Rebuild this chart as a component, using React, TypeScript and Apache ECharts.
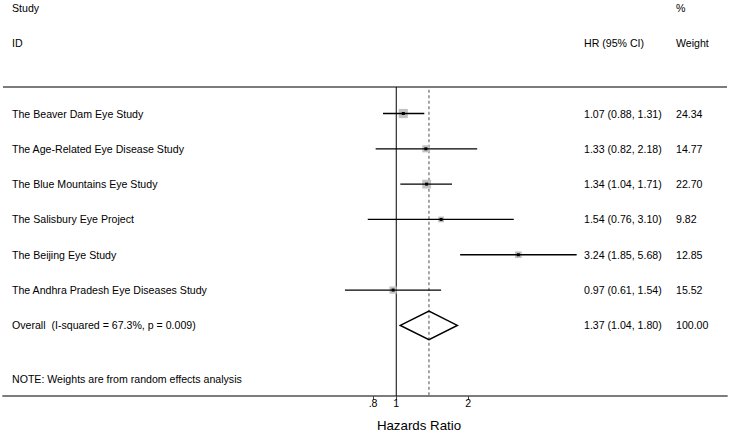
import React, { useEffect, useRef } from "react";
import * as echarts from "echarts";

// ---- data ----
const studies = [
  "The Beaver Dam Eye Study",
  "The Age-Related Eye Disease Study",
  "The Blue Mountains Eye Study",
  "The Salisbury Eye Project",
  "The Beijing Eye Study",
  "The Andhra Pradesh Eye Diseases Study",
];
const hrValues = [1.07, 1.33, 1.34, 1.54, 3.24, 0.97];
const ciLow = [0.88, 0.82, 1.04, 0.76, 1.85, 0.61];
const ciHigh = [1.31, 2.18, 1.71, 3.1, 5.68, 1.54];
const weights = [24.34, 14.77, 22.7, 9.82, 12.85, 15.52];

const overallLabel = "Overall  (I-squared = 67.3%, p = 0.009)";
const overallHR = 1.37;
const overallLow = 1.04;
const overallHigh = 1.8;
const overallWeight = 100.0;

const xTicks = [0.8, 1, 2];
const xTickLabels = [".8", "1", "2"];
const noteText = "NOTE: Weights are from random effects analysis";
const axisTitle = "Hazards Ratio";

// ---- styling ----
const FONT = '"Liberation Sans", Arial, sans-serif';
const FS = 10.6;
const TXT = "#000";
const COL_NAME_X = 12;
const COL_HR_X = 584;
const COL_W_X = 676;
const TOP_ROW = -0.75;
const AXIS_ROW = 8;
const X_MIN = 0.02267;
const X_MAX = 24.16;

const fmt = (v: number) => v.toFixed(2);

export default function App() {
  const ref = useRef<HTMLDivElement>(null);
  useEffect(() => {
    if (!ref.current) return;
    const chart = echarts.init(ref.current, undefined, { renderer: "svg" });

    const studyData = studies.map((_, i) => [hrValues[i], i, ciLow[i], ciHigh[i], weights[i]]);
    const overallRow = studies.length;

    const textEl = (x: number, y: number, text: string, align = "left", size = FS) => ({
      type: "text",
      x,
      y,
      style: { text, fill: TXT, fontSize: size, fontFamily: FONT, align, verticalAlign: "middle" },
    });

    const option: any = {
      animation: false,
      grid: { left: 3, right: 3, top: 0.5, bottom: 38 },
      xAxis: {
        type: "log",
        logBase: 10,
        min: X_MIN,
        max: X_MAX,
        position: "bottom",
        axisLine: { show: true, onZero: false, lineStyle: { color: "#7c7c7c", width: 1.8 } },
        axisTick: { show: true, customValues: xTicks, length: 4, lineStyle: { color: "#444", width: 1 } },
        axisLabel: {
          customValues: xTicks,
          margin: 1.5,
          fontSize: FS,
          fontFamily: FONT,
          color: TXT,
          formatter: (v: number) => {
            let best = 0;
            xTicks.forEach((t, k) => {
              if (Math.abs(t - v) < Math.abs(xTicks[best] - v)) best = k;
            });
            return xTickLabels[best];
          },
        },
        splitLine: { show: false },
        minorTick: { show: false },
      },
      yAxis: { type: "value", inverse: true, min: -3.2, max: 8, show: false },
      graphic: [
        textEl(COL_NAME_X, 8, "Study"),
        textEl(COL_W_X, 8, "%"),
        textEl(COL_NAME_X, 43, "ID"),
        textEl(COL_HR_X, 43, "HR (95% CI)"),
        textEl(COL_W_X, 43, "Weight"),
        textEl(COL_NAME_X, 379, noteText),
        textEl(419, 425, axisTitle, "center", 13.3),
      ],
      series: [
        {
          type: "custom",
          name: "frame",
          data: [[1, TOP_ROW]],
          renderItem: (params: any, api: any) => {
            const a = api.coord([X_MIN, TOP_ROW]);
            const b = api.coord([X_MAX, TOP_ROW]);
            return {
              type: "line",
              shape: { x1: a[0], y1: a[1], x2: b[0], y2: b[1] },
              style: { stroke: "#7c7c7c", lineWidth: 1.8 },
            };
          },
        },
        {
          type: "custom",
          name: "reference",
          data: [
            [1, TOP_ROW, AXIS_ROW, 0],
            [overallHR, TOP_ROW + 0.08, AXIS_ROW, 1],
          ],
          renderItem: (params: any, api: any) => {
            const t = api.coord([api.value(0), api.value(1)]);
            const b = api.coord([api.value(0), api.value(2)]);
            const dashed = api.value(3) === 1;
            return {
              type: "line",
              shape: { x1: t[0], y1: t[1], x2: b[0], y2: b[1] },
              style: dashed
                ? { stroke: "#777", lineWidth: 1.3, lineDash: [3, 2.5] }
                : { stroke: "#000", lineWidth: 1 },
            };
          },
        },
        {
          type: "custom",
          name: "studies",
          data: studyData,
          renderItem: (params: any, api: any) => {
            const idx = params.dataIndex;
            const h = api.value(0);
            const row = api.value(1);
            const c = api.coord([h, row]);
            const l = api.coord([api.value(2), row]);
            const r = api.coord([api.value(3), row]);
            const s = 1.85 * Math.sqrt(api.value(4));
            return {
              type: "group",
              children: [
                {
                  type: "rect",
                  shape: { x: c[0] - s / 2, y: c[1] - s / 2, width: s, height: s },
                  style: { fill: "#c2c2c2" },
                },
                {
                  type: "line",
                  shape: { x1: l[0], y1: l[1], x2: r[0], y2: r[1] },
                  style: { stroke: "#000", lineWidth: 1.3 },
                },
                {
                  type: "rect",
                  shape: { x: c[0] - 1.5, y: c[1] - 1.5, width: 3, height: 3 },
                  style: { fill: "#000" },
                },
                textEl(COL_NAME_X, c[1], studies[idx]),
                textEl(
                  COL_HR_X,
                  c[1],
                  `${fmt(hrValues[idx])} (${fmt(ciLow[idx])}, ${fmt(ciHigh[idx])})`
                ),
                textEl(COL_W_X, c[1], fmt(weights[idx])),
              ],
            };
          },
        },
        {
          type: "custom",
          name: "overall",
          data: [[overallHR, overallRow, overallLow, overallHigh, overallWeight]],
          renderItem: (params: any, api: any) => {
            const row = api.value(1);
            const c = api.coord([api.value(0), row]);
            const l = api.coord([api.value(2), row]);
            const r = api.coord([api.value(3), row]);
            const hh = 14.3;
            return {
              type: "group",
              children: [
                {
                  type: "polygon",
                  shape: {
                    points: [
                      [l[0], l[1]],
                      [c[0], c[1] - hh],
                      [r[0], r[1]],
                      [c[0], c[1] + hh],
                    ],
                  },
                  style: { fill: "none", stroke: "#000", lineWidth: 1.5 },
                },
                textEl(COL_NAME_X, c[1], overallLabel),
                textEl(COL_HR_X, c[1], `${fmt(overallHR)} (${fmt(overallLow)}, ${fmt(overallHigh)})`),
                textEl(COL_W_X, c[1], fmt(overallWeight)),
              ],
            };
          },
        },
      ],
    };
    chart.setOption(option);
    return () => chart.dispose();
  }, []);
  return (
    <div
      ref={ref}
      style={{ position: "fixed", left: 0, top: 0, width: 730, height: 434, background: "#fff" }}
    />
  );
}
